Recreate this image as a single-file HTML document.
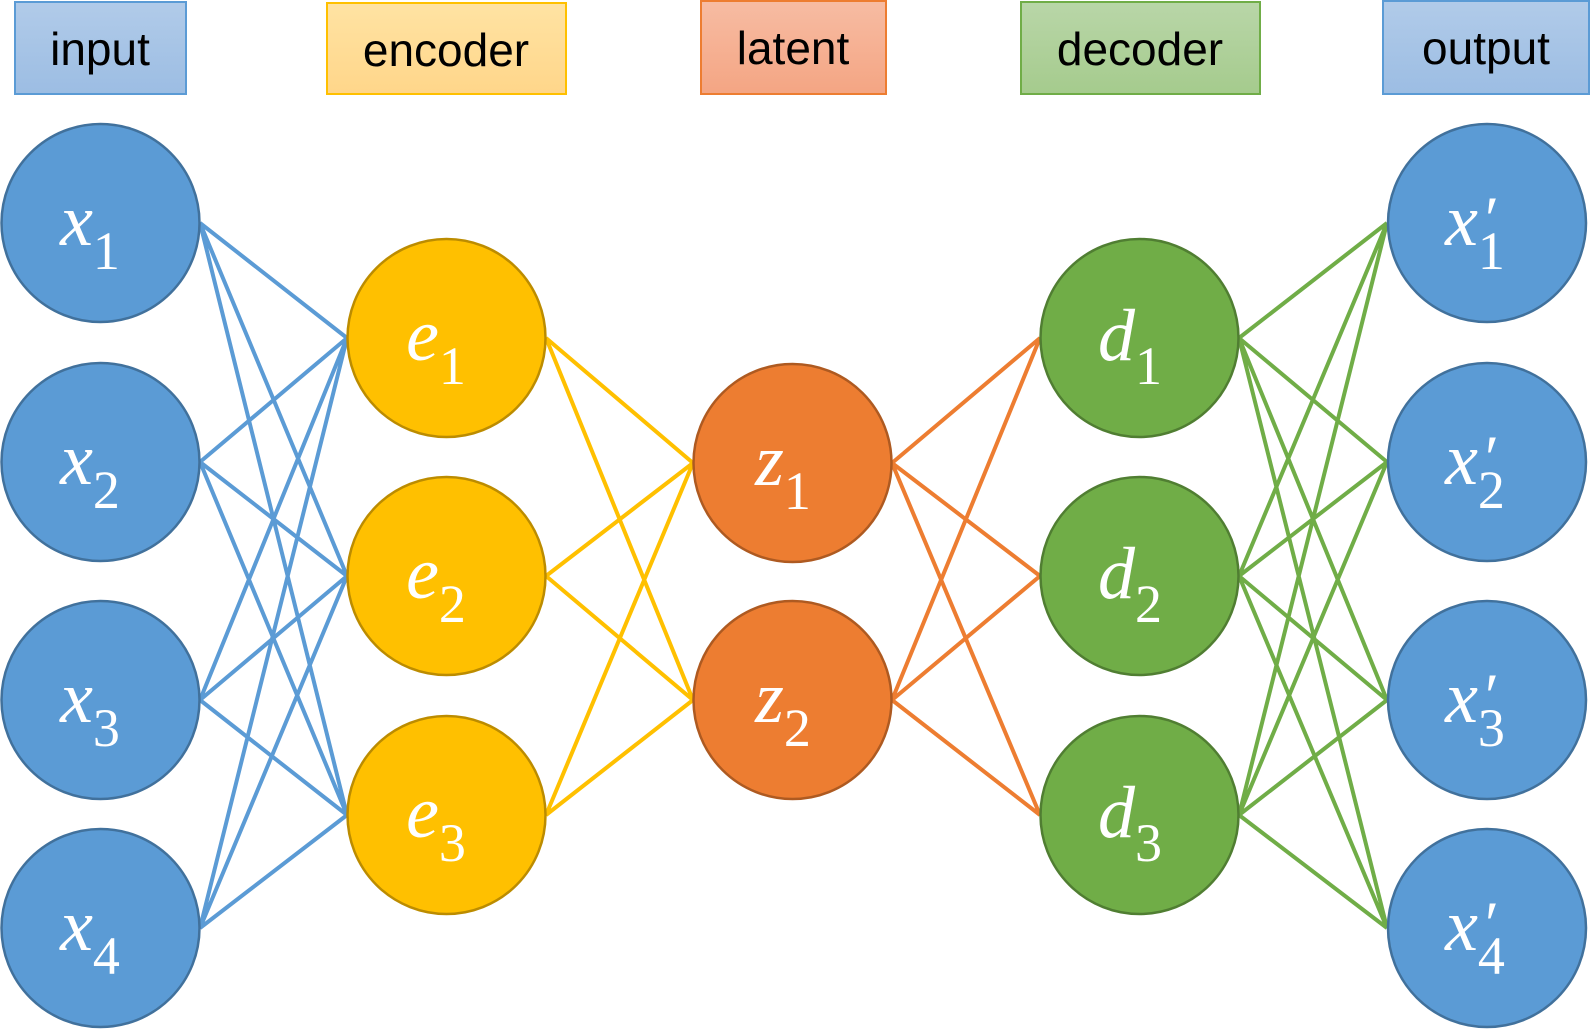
<!DOCTYPE html>
<html><head><meta charset="utf-8"><style>
html,body{margin:0;padding:0;background:#fff;}
svg{display:block}
.lbl{font-family:"Liberation Sans",sans-serif;font-size:46px;fill:#000;text-anchor:middle}
.m{font-family:"Liberation Serif",serif;fill:#fff;text-anchor:middle}
</style></head><body>
<svg width="1591" height="1030" viewBox="0 0 1591 1030" xmlns="http://www.w3.org/2000/svg">
<defs>
<linearGradient id="gb" x1="0" y1="0" x2="0" y2="1"><stop offset="0" stop-color="#b1cbe9"/><stop offset="1" stop-color="#9cbde3"/></linearGradient>
<linearGradient id="gy" x1="0" y1="0" x2="0" y2="1"><stop offset="0" stop-color="#ffe3a3"/><stop offset="1" stop-color="#ffd68a"/></linearGradient>
<linearGradient id="go" x1="0" y1="0" x2="0" y2="1"><stop offset="0" stop-color="#f7bca3"/><stop offset="1" stop-color="#f4a583"/></linearGradient>
<linearGradient id="gg" x1="0" y1="0" x2="0" y2="1"><stop offset="0" stop-color="#b9d6a8"/><stop offset="1" stop-color="#a5cb8d"/></linearGradient>
</defs>
<rect x="15" y="2" width="171" height="92" fill="url(#gb)" stroke="#5b9bd5" stroke-width="2"/>
<text class="lbl" x="100" y="65">input</text>
<rect x="327" y="3" width="239" height="91" fill="url(#gy)" stroke="#ffc000" stroke-width="2"/>
<text class="lbl" x="446" y="66">encoder</text>
<rect x="701" y="1" width="185" height="93" fill="url(#go)" stroke="#ed7d31" stroke-width="2"/>
<text class="lbl" x="793" y="64">latent</text>
<rect x="1021" y="2" width="239" height="92" fill="url(#gg)" stroke="#70ad47" stroke-width="2"/>
<text class="lbl" x="1140" y="65">decoder</text>
<rect x="1383" y="1" width="206" height="93" fill="url(#gb)" stroke="#5b9bd5" stroke-width="2"/>
<text class="lbl" x="1486" y="64">output</text>
<g stroke-width="4" fill="none">
<g stroke="#5b9bd5">
<path d="M200 223L347 338M200 223L347 576M200 223L347 815M200 462L347 338M200 462L347 576M200 462L347 815M200 700L347 338M200 700L347 576M200 700L347 815M200 928L347 338M200 928L347 576M200 928L347 815"/>
</g>
<g stroke="#ffc000">
<path d="M546 338L693 463M546 338L693 700M546 576L693 463M546 576L693 700M546 815L693 463M546 815L693 700"/>
</g>
<g stroke="#ed7d31">
<path d="M892 463L1040 338M892 463L1040 576M892 463L1040 815M892 700L1040 338M892 700L1040 576M892 700L1040 815"/>
</g>
<g stroke="#70ad47">
<path d="M1239 338L1387 223M1239 338L1387 462M1239 338L1387 700M1239 338L1387 928M1239 576L1387 223M1239 576L1387 462M1239 576L1387 700M1239 576L1387 928M1239 815L1387 223M1239 815L1387 462M1239 815L1387 700M1239 815L1387 928"/>
</g>
</g>
<g stroke-width="2.5">
<g fill="#5b9bd5" stroke="#41719c">
<circle cx="100.5" cy="223" r="99"/><circle cx="100.5" cy="462" r="99"/><circle cx="100.5" cy="700" r="99"/><circle cx="100.5" cy="928" r="99"/>
<circle cx="1487" cy="223" r="99"/><circle cx="1487" cy="462" r="99"/><circle cx="1487" cy="700" r="99"/><circle cx="1487" cy="928" r="99"/>
</g>
<g fill="#ffc000" stroke="#bc8c00">
<circle cx="446.5" cy="338" r="99"/><circle cx="446.5" cy="576" r="99"/><circle cx="446.5" cy="815" r="99"/>
</g>
<g fill="#ed7d31" stroke="#ae5a21">
<circle cx="792.5" cy="463" r="99"/><circle cx="792.5" cy="700" r="99"/>
</g>
<g fill="#70ad47" stroke="#507e32">
<circle cx="1139.5" cy="338" r="99"/><circle cx="1139.5" cy="576" r="99"/><circle cx="1139.5" cy="815" r="99"/>
</g>
</g>
<g>
<text class="m" x="90" y="245" font-size="74"><tspan font-style="italic">x</tspan><tspan font-size="54" dy="24">1</tspan></text>
<text class="m" x="90" y="484" font-size="74"><tspan font-style="italic">x</tspan><tspan font-size="54" dy="24">2</tspan></text>
<text class="m" x="90" y="722" font-size="74"><tspan font-style="italic">x</tspan><tspan font-size="54" dy="24">3</tspan></text>
<text class="m" x="90" y="950" font-size="74"><tspan font-style="italic">x</tspan><tspan font-size="54" dy="24">4</tspan></text>
<text class="m" x="436" y="360" font-size="74"><tspan font-style="italic">e</tspan><tspan font-size="54" dy="24">1</tspan></text>
<text class="m" x="436" y="598" font-size="74"><tspan font-style="italic">e</tspan><tspan font-size="54" dy="24">2</tspan></text>
<text class="m" x="436" y="837" font-size="74"><tspan font-style="italic">e</tspan><tspan font-size="54" dy="24">3</tspan></text>
<text class="m" x="783" y="485" font-size="74"><tspan font-style="italic">z</tspan><tspan font-size="54" dy="24">1</tspan></text>
<text class="m" x="783" y="722" font-size="74"><tspan font-style="italic">z</tspan><tspan font-size="54" dy="24">2</tspan></text>
<text class="m" x="1130" y="360" font-size="74"><tspan font-style="italic">d</tspan><tspan font-size="54" dy="24">1</tspan></text>
<text class="m" x="1130" y="598" font-size="74"><tspan font-style="italic">d</tspan><tspan font-size="54" dy="24">2</tspan></text>
<text class="m" x="1130" y="837" font-size="74"><tspan font-style="italic">d</tspan><tspan font-size="54" dy="24">3</tspan></text>
<text class="m" x="1475" y="245" font-size="74"><tspan font-style="italic">x</tspan><tspan font-size="54" dy="24">1</tspan></text>
<text class="m" x="1475" y="484" font-size="74"><tspan font-style="italic">x</tspan><tspan font-size="54" dy="24">2</tspan></text>
<text class="m" x="1475" y="722" font-size="74"><tspan font-style="italic">x</tspan><tspan font-size="54" dy="24">3</tspan></text>
<text class="m" x="1475" y="950" font-size="74"><tspan font-style="italic">x</tspan><tspan font-size="54" dy="24">4</tspan></text>
<text class="m" x="1492" y="240" font-size="64">′</text>
<text class="m" x="1492" y="479" font-size="64">′</text>
<text class="m" x="1492" y="717" font-size="64">′</text>
<text class="m" x="1492" y="945" font-size="64">′</text>
</g>
</svg>
</body></html>
